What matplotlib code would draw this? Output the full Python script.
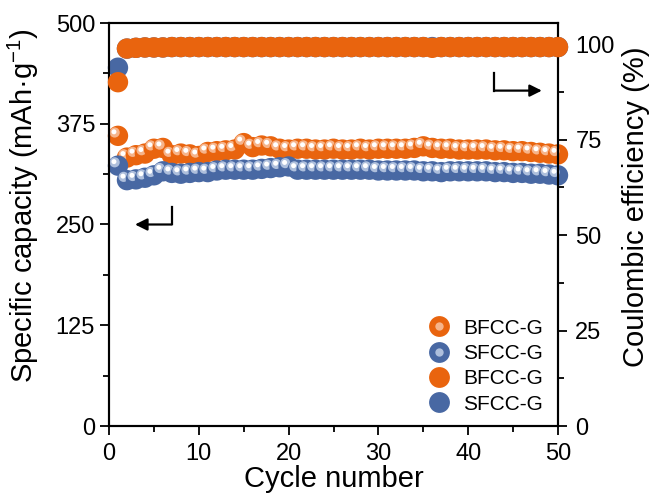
import matplotlib
matplotlib.use("Agg")
import matplotlib.pyplot as plt
from matplotlib.transforms import ScaledTranslation
from matplotlib.lines import Line2D
from matplotlib.legend_handler import HandlerTuple
from matplotlib.ticker import MultipleLocator

plt.rcParams['font.family'] = ['Liberation Sans', 'DejaVu Sans']
plt.rcParams['mathtext.fontset'] = 'custom'
plt.rcParams['mathtext.rm'] = 'Liberation Sans'
plt.rcParams['mathtext.it'] = 'Liberation Sans'
plt.rcParams['mathtext.default'] = 'regular'

cycles = list(range(1, 51))
cap_bfcc = [360, 333, 336, 338, 344, 345, 336, 338, 337, 335, 340, 341, 342, 343, 351, 346, 348, 347, 344, 343,
            344, 344, 343, 343, 344, 343, 343, 344, 343, 344, 344, 344, 344, 345, 347, 345, 344, 344, 343, 343,
            343, 343, 342, 342, 341, 341, 340, 339, 338, 337]
cap_sfcc = [323, 305, 306, 308, 311, 316, 314, 313, 314, 315, 315, 317, 318, 318, 318, 318, 319, 320, 321, 322,
            318, 318, 318, 318, 318, 318, 318, 318, 318, 317, 317, 317, 317, 317, 316, 316, 315, 316, 316, 316,
            316, 316, 315, 315, 314, 314, 313, 313, 312, 311]
ce_bfcc = [90.0, 98.8, 99.0, 99.1, 99.1, 99.1, 99.2, 99.2, 99.2, 99.2] + [99.2] * 25 + [99.0] + [99.2] * 14
ce_sfcc = [93.8, 98.8, 99.0, 99.1, 99.1, 99.1, 99.2, 99.2, 99.2, 99.2] + [99.2] * 40

orange = '#E9640E'
blue = '#4868A3'
orange_hl = '#F6B48A'
blue_hl = '#AEBFDC'

fig = plt.figure(figsize=(6.57, 4.98), dpi=100)
ax = fig.add_axes([109/657, 72/498, 449/657, 403/498])
ax2 = ax.twinx()

S = 215
def spheres(a, xs, ys, col, hl, z):
    off1 = a.transData + ScaledTranslation(-2.4/72, 2.4/72, fig.dpi_scale_trans)
    off2 = a.transData + ScaledTranslation(-2.9/72, 2.9/72, fig.dpi_scale_trans)
    for i, (x, y) in enumerate(zip(xs, ys)):
        a.scatter([x], [y], s=S, color=col, edgecolors='none', zorder=z + i * 0.01, clip_on=False)
        a.scatter([x], [y], s=S * 0.25, color=hl, edgecolors='none', transform=off1,
                  zorder=z + i * 0.01 + 0.003, clip_on=False)
        a.scatter([x], [y], s=S * 0.06, color='white', edgecolors='none', transform=off2,
                  zorder=z + i * 0.01 + 0.006, clip_on=False)

spheres(ax, cycles, cap_bfcc, orange, orange_hl, 2)
spheres(ax, cycles, cap_sfcc, blue, blue_hl, 3)

ax2.scatter(cycles, ce_sfcc, s=S, color=blue, edgecolors='none', zorder=2, clip_on=False)
ax2.scatter(cycles, ce_bfcc, s=S, color=orange, edgecolors='none', zorder=3, clip_on=False)

ax.set_xlim(0, 50)
ax.set_ylim(0, 500)
ax2.set_ylim(0, 105.5)
ax.set_xticks([0, 10, 20, 30, 40, 50])
ax.set_yticks([0, 125, 250, 375, 500])
ax2.set_yticks([0, 25, 50, 75, 100])
ax.xaxis.set_minor_locator(MultipleLocator(5))
ax.yaxis.set_minor_locator(MultipleLocator(62.5))
ax2.yaxis.set_minor_locator(MultipleLocator(12.5))
for a in (ax, ax2):
    a.tick_params(which='major', direction='out', labelsize=17, length=6.5, width=1.3, pad=3.5)
    a.tick_params(which='minor', direction='out', length=4, width=1.3)
    for sp in a.spines.values():
        sp.set_linewidth(1.5)
ax.tick_params(axis='x', which='major', pad=6)
ax2.tick_params(axis='y', which='major', pad=6)

ax.set_xlabel('Cycle number', fontsize=21, labelpad=0)
ax.set_ylabel('Specific capacity (mAh·g$^{-1}$)', fontsize=21)
ax2.set_ylabel('Coulombic efficiency (%)', fontsize=21)
ax.yaxis.set_label_coords(-0.152, 0.548)
ax2.yaxis.set_label_coords(1.143, 0.545)

# arrows
ax.annotate('', xy=(2.9, 250), xytext=(7.0, 250), xycoords='data',
            arrowprops=dict(arrowstyle='-|>', color='black', lw=1.6, mutation_scale=18,
                            shrinkA=0, shrinkB=0))
ax.plot([7.0, 7.0], [250, 272], color='black', lw=1.6)
ax2.annotate('', xy=(48.2, 87.8), xytext=(42.9, 87.8), xycoords='data',
             arrowprops=dict(arrowstyle='-|>', color='black', lw=1.6, mutation_scale=18,
                             shrinkA=0, shrinkB=0))
ax2.plot([42.9, 42.9], [87.8, 92.3], color='black', lw=1.6)

ax2.set_zorder(ax.get_zorder() + 1)
ax2.patch.set_visible(False)

def h(col, hl):
    return (Line2D([], [], marker='o', ls='', ms=15, color=col, mec='none'),
            Line2D([], [], marker='o', ls='', ms=6, color=hl, mec='none'))

handles = [h(orange, orange_hl), h(blue, blue_hl),
           Line2D([], [], marker='o', ls='', ms=15, color=orange, mec='none'),
           Line2D([], [], marker='o', ls='', ms=15, color=blue, mec='none')]
ax2.legend(handles, ['BFCC-G', 'SFCC-G', 'BFCC-G', 'SFCC-G'], loc='lower right',
           bbox_to_anchor=(0.995, 0.0), frameon=False, fontsize=15, handletextpad=0.5,
           handlelength=1.4, labelspacing=0.3, borderaxespad=0.2,
           handler_map={tuple: HandlerTuple(ndivide=1)})

fig.savefig('out.png', dpi=100)
